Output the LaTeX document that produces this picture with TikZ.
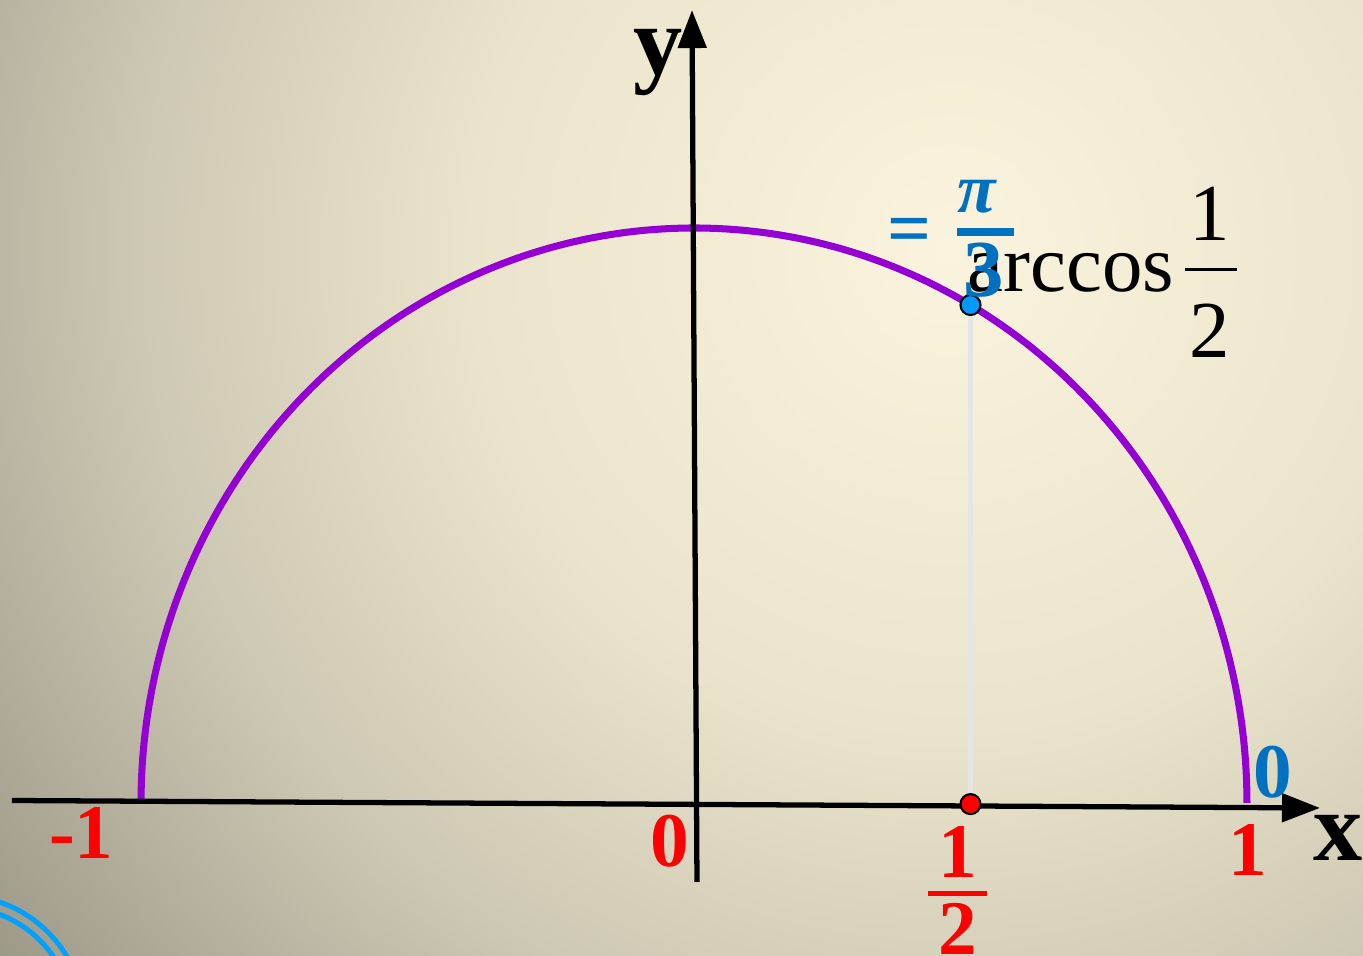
\documentclass[tikz,border=0pt]{standalone}
\usepackage{fontspec}
\setmainfont{Liberation Serif}
\usetikzlibrary{arrows.meta}
\definecolor{arcpurple}{HTML}{9400D3}
\definecolor{lblred}{HTML}{FF0000}
\definecolor{lblblue}{HTML}{0070C0}
\definecolor{dotblue}{HTML}{0099FF}
\definecolor{ringblue}{HTML}{00A0FF}
\definecolor{bgA}{HTML}{FAF4DE}
\definecolor{bgB}{HTML}{EAE4CC}
\definecolor{bgC}{HTML}{CDC8B3}
\definecolor{bgD}{HTML}{B5B09D}
\definecolor{bgE}{HTML}{9B9787}
\pgfdeclareradialshading{bgglow}{\pgfpoint{0bp}{0bp}}{color(0bp)=(bgA); color(10bp)=(bgB); color(17bp)=(bgC); color(21bp)=(bgD); color(25bp)=(bgE); color(50bp)=(bgE)}

\begin{document}
\begin{tikzpicture}[x=5.53cm,y=5.75cm,
  axis/.style={line width=1.5pt,-{Triangle[length=0.38cm,width=0.28cm]}},
  axlbl/.style={inner sep=0pt,font=\bfseries\fontsize{28}{28}\selectfont},
  redlbl/.style={inner sep=0pt,text=lblred,font=\bfseries\fontsize{22}{22}\selectfont},
  bluelbl/.style={inner sep=0pt,text=lblblue,font=\bfseries\fontsize{22}{22}\selectfont},
  blklbl/.style={inner sep=0pt,font=\fontsize{23}{23}\selectfont},
  dot/.style={circle,draw=black,line width=0.6pt,inner sep=0pt,minimum size=0.2cm}]
  \useasboundingbox (-1.255,-0.2661) rectangle (1.2098,1.3965);
  \begin{scope}
    \clip (-1.255,-0.2661) rectangle (1.2098,1.3965);
    \shade[shading=bgglow] (0.463,0.962) circle[radius=12cm];
    \draw[ringblue,line width=1.4pt] (-1.327,-0.377) circle[radius=1.24cm]
      (-1.327,-0.377) circle[radius=1.125cm];
  \end{scope}

  \draw[arcpurple,line width=2pt] plot[smooth,domain=0:180,samples=90]({cos(\x)},{sin(\x)});
  \draw[axis] (-1.2333,0.0043)--(1.132,-0.0087);
  \draw[axis] (0.0054,-0.1374)--(-0.0036,1.379);

  \node[dot,fill=lblred] (hdot) at (0.5,-0.002) {};
  \node[dot,fill=dotblue] (pdot) at ({cos(60)},{sin(60)}) {};
  \draw[black!10,line width=1.2pt] (hdot)--(pdot);

  \node[axlbl] (ylbl) at (-0.0651,1.288) {y};
  \node[axlbl] (xlbl) at (1.1646,-0.061) {x};
  \node[redlbl] (mone) at (-1.108,-0.052) {-1};
  \node[redlbl] (zero) at (-0.0434,-0.066) {0};
  \node[redlbl] (one) at (1.002,-0.082) {1};
  \node[bluelbl] (bzero) at (1.047,0.054) {0};
  \node[redlbl] (rnum) at (0.4765,-0.0858) {1};
  \draw[lblred,line width=1.5pt] (0.4231,-0.157)--(0.5298,-0.157);
  \node[redlbl] (rden) at (0.4765,-0.2187) {2};

  \node[blklbl,anchor=base west] (arccos) at (0.4937,0.8887) {arccos};
  \node[blklbl] (knum) at (0.9331,1.0252) {1};
  \draw[line width=0.85pt] (0.8879,0.927)--(0.9819,0.927);
  \node[blklbl] (kden) at (0.9331,0.8209) {2};

  \node[bluelbl,anchor=base] (eq) at (0.3897,0.953) {=};
  \node[bluelbl,font=\bfseries\itshape\fontsize{20}{20}\selectfont] (bnum) at (0.5118,1.0548) {π};
  \draw[lblblue,line width=2pt] (0.4756,0.993)--(0.5787,0.993);
  \node[bluelbl,font=\bfseries\fontsize{23}{23}\selectfont] (bden) at (0.5244,0.9263) {3};
\end{tikzpicture}
\end{document}
